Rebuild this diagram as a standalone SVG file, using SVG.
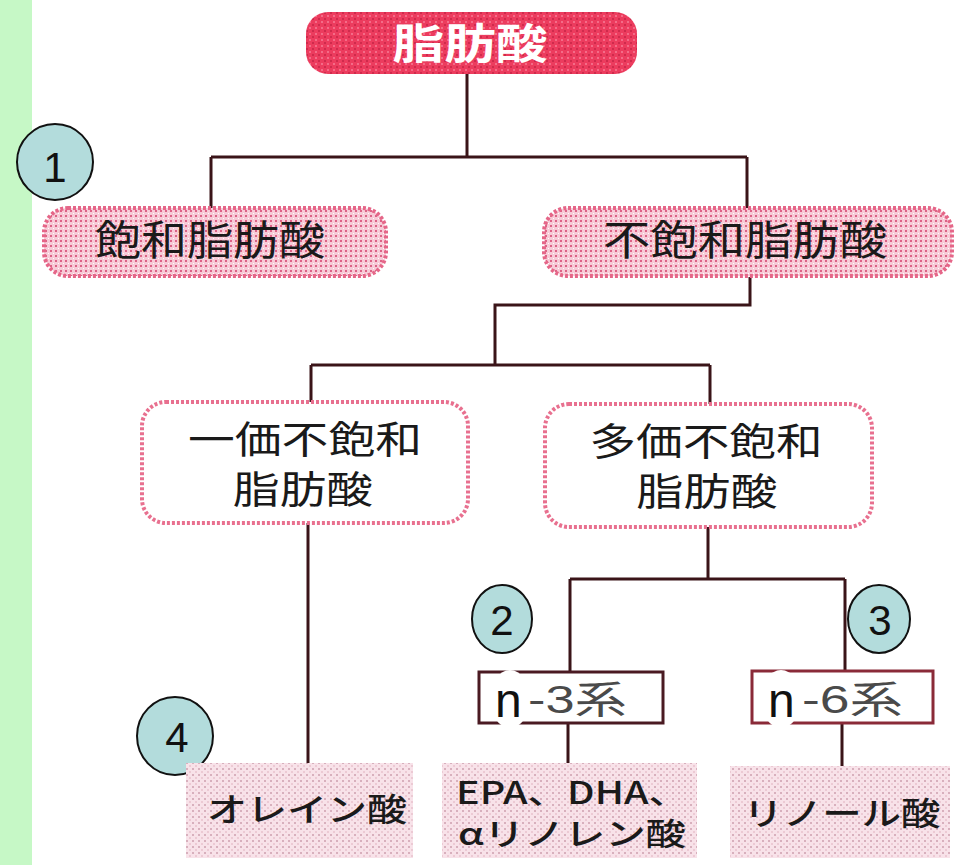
<svg xmlns="http://www.w3.org/2000/svg" width="960" height="865" viewBox="0 0 960 865">
<defs>
  <pattern id="redDots" width="6" height="6" patternUnits="userSpaceOnUse">
    <rect width="6" height="6" fill="#ec3c5e"/>
    <rect x="0" y="0" width="2" height="2" fill="#cf2a4c"/>
    <rect x="3" y="3" width="2" height="2" fill="#f46c88"/>
  </pattern>
  <pattern id="pinkDots" width="5" height="5" patternUnits="userSpaceOnUse">
    <rect width="5" height="5" fill="#f7cbd7"/>
    <rect x="0" y="0" width="2" height="2" fill="#dc6286"/>
    <rect x="3" y="3" width="1" height="1" fill="#ffffff"/>
  </pattern>
  <pattern id="lightDots" width="6" height="6" patternUnits="userSpaceOnUse">
    <rect width="6" height="6" fill="#f8e2e9"/>
    <rect x="0" y="0" width="2" height="2" fill="#d8b0bd"/>
    <rect x="3" y="3" width="2" height="2" fill="#eccad4"/>
  </pattern>
  <style>
    .jp{font-family:"Noto Sans CJK JP","Noto Sans CJK SC",sans-serif;fill:#1a1a1a;}
    .lat{font-family:"Liberation Sans",Arial,"Noto Sans CJK JP",sans-serif;}
    .num{font-family:"Liberation Sans",Arial,sans-serif;font-size:42px;fill:#111;text-anchor:middle;}
    .mark{fill:#b3dcdc;stroke:#111;stroke-width:2;}
    .pinkNode{fill:url(#pinkDots);stroke:#e56688;stroke-width:4;stroke-dasharray:3 2;}
    .whiteNode{fill:#ffffff;stroke:#e8708f;stroke-width:4;stroke-dasharray:3 2;}
    .leaf{fill:url(#lightDots);}
    .tag{fill:#ffffff;stroke:#4a1a22;stroke-width:3;}
    .conn{fill:none;stroke:#3a1418;stroke-width:3;}
  </style>
</defs>

<rect x="0" y="0" width="32" height="865" fill="#c6f8c6"/>

<g id="connectors">
  <path class="conn" d="M467,74 V157 M211,157 H747 M211,157 V208 M747,157 V208"/>
  <path class="conn" d="M750,277 V305 H495 V365 M311,365 H710 M311,365 V402 M710,365 V404"/>
  <path class="conn" d="M308,523 V763"/>
  <path class="conn" d="M708,527 V579 M570,579 H845 M570,579 V672 M845,579 V671"/>
  <path class="conn" d="M568,723 V763 M842,723 V766"/>
</g>

<g id="node-fatty-acid">
  <rect x="306" y="12" width="331" height="62" rx="22" fill="url(#redDots)"/>
  <text class="jp" x="470" y="59" font-size="42" font-weight="700" style="fill:#ffffff" text-anchor="middle" textLength="155" lengthAdjust="spacingAndGlyphs">脂肪酸</text>
</g>

<g id="mark-1">
  <circle class="mark" cx="55" cy="162" r="38"/>
  <text class="num" x="55" y="182">1</text>
</g>

<g id="node-saturated">
  <rect class="pinkNode" x="44" y="208" width="342" height="68" rx="24"/>
  <text class="jp" x="210" y="255" font-size="41" text-anchor="middle" textLength="230" lengthAdjust="spacingAndGlyphs">飽和脂肪酸</text>
</g>

<g id="node-unsaturated">
  <rect class="pinkNode" x="544" y="208" width="408" height="68" rx="24"/>
  <text class="jp" x="745" y="255" font-size="41" text-anchor="middle" textLength="284" lengthAdjust="spacingAndGlyphs">不飽和脂肪酸</text>
</g>

<g id="node-mono">
  <rect class="whiteNode" x="142" y="402" width="326" height="121" rx="24"/>
  <text class="jp" font-size="38" text-anchor="middle"><tspan x="305" y="453" textLength="234" lengthAdjust="spacingAndGlyphs">一価不飽和</tspan><tspan x="303" y="503" textLength="140" lengthAdjust="spacingAndGlyphs">脂肪酸</tspan></text>
</g>

<g id="node-poly">
  <rect class="whiteNode" x="545" y="404" width="327" height="123" rx="24"/>
  <text class="jp" font-size="38" text-anchor="middle"><tspan x="706" y="455" textLength="233" lengthAdjust="spacingAndGlyphs">多価不飽和</tspan><tspan x="707" y="505" textLength="141" lengthAdjust="spacingAndGlyphs">脂肪酸</tspan></text>
</g>

<g id="mark-2">
  <ellipse class="mark" cx="502" cy="619" rx="30" ry="34"/>
  <text class="num" x="502" y="635">2</text>
</g>

<g id="mark-3">
  <ellipse class="mark" cx="879" cy="619" rx="31" ry="34"/>
  <text class="num" x="880" y="635">3</text>
</g>

<g id="node-n3">
  <rect class="tag" x="479" y="672" width="184" height="51"/>
  <ellipse cx="510" cy="699" rx="20" ry="29" fill="#ffffff"/>
  <text class="lat" x="495" y="717" font-size="48" fill="#111">n</text>
  <text class="lat" x="528" y="713" font-size="38" fill="#4a4a4a" textLength="99" lengthAdjust="spacingAndGlyphs">-3系</text>
</g>

<g id="node-n6">
  <rect class="tag" x="752" y="671" width="181" height="52" style="stroke:#8a2a38"/>
  <ellipse cx="781" cy="699" rx="20" ry="29" fill="#ffffff"/>
  <text class="lat" x="768" y="717" font-size="48" fill="#111">n</text>
  <text class="lat" x="802" y="713" font-size="38" fill="#4a4a4a" textLength="101" lengthAdjust="spacingAndGlyphs">-6系</text>
</g>

<g id="mark-4">
  <ellipse class="mark" cx="175" cy="736" rx="38" ry="39"/>
  <text class="num" x="177" y="752">4</text>
</g>

<g id="node-oleic">
  <rect class="leaf" x="186" y="763" width="227" height="95"/>
  <text class="jp" x="307" y="821" font-size="32" font-weight="500" text-anchor="middle" textLength="200" lengthAdjust="spacingAndGlyphs">オレイン酸</text>
</g>

<g id="node-epa">
  <rect class="leaf" x="442" y="763" width="255" height="95"/>
  <text class="jp" font-size="31" font-weight="500" text-anchor="middle"><tspan x="572" y="804" textLength="232" lengthAdjust="spacingAndGlyphs">EPA、DHA、</tspan><tspan x="572" y="845" textLength="228" lengthAdjust="spacingAndGlyphs">αリノレン酸</tspan></text>
</g>

<g id="node-linoleic">
  <rect class="leaf" x="730" y="766" width="220" height="92"/>
  <text class="jp" x="842" y="825" font-size="32" font-weight="500" text-anchor="middle" textLength="197" lengthAdjust="spacingAndGlyphs">リノール酸</text>
</g>
</svg>
